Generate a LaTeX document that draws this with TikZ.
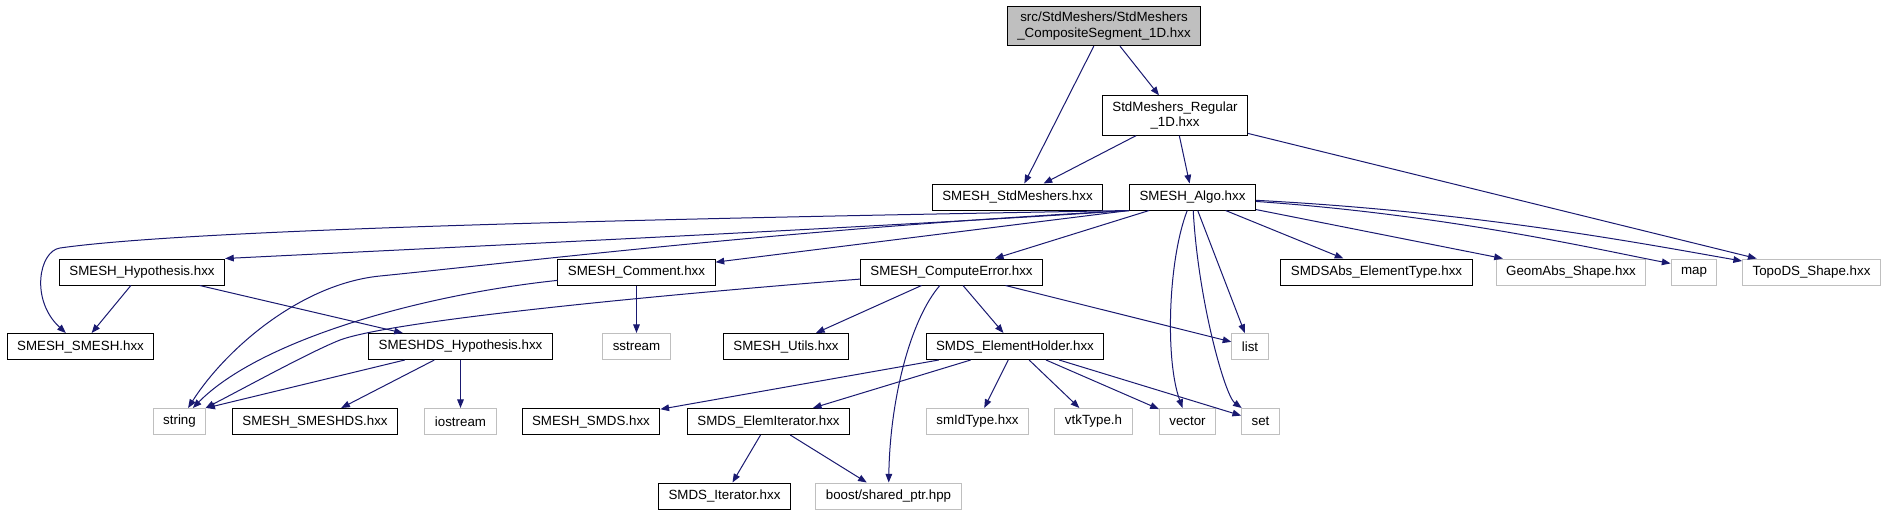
\documentclass[tikz,border=0pt]{standalone}
\usepackage{fontspec}
\setmainfont{Liberation Sans}
\usepackage{tikz}
\usetikzlibrary{arrows.meta}
\definecolor{edgeblue}{HTML}{191970}
\definecolor{extgrey}{HTML}{BFBFBF}

\begin{document}
\begin{tikzpicture}[
  x=0.75pt, y=-0.75pt,
  font=\fontsize{10}{11.5}\selectfont,
  box/.style={
    draw=black, line width=0.75pt, fill=white,
    align=center, inner xsep=7.5pt, inner ysep=2pt,
    minimum height=19.5pt
  },
  ext/.style={box, draw=extgrey},
  two/.style={box, minimum height=29.5pt},
  rootbox/.style={two, fill=extgrey},
  arr/.style={-{Triangle[length=6.5pt,width=5pt]}, draw=edgeblue, line width=0.75pt}
]
  \useasboundingbox (0,0) rectangle (1886,515);

  % header being documented
  \node[rootbox] (root) at (1104,26) {src/StdMeshers/StdMeshers\\\_CompositeSegment\_1D.hxx};
  \node[two] (reg) at (1175,115.5) {StdMeshers\_Regular\\\_1D.hxx};

  \node[box] (stdm) at (1017.5,197) {SMESH\_StdMeshers.hxx};
  \node[box] (algo) at (1192.5,197) {SMESH\_Algo.hxx};

  \node[box] (hyp) at (142,272) {SMESH\_Hypothesis.hxx};
  \node[box] (comment) at (636.5,272) {SMESH\_Comment.hxx};
  \node[box] (cerr) at (951.5,272) {SMESH\_ComputeError.hxx};
  \node[box] (elemtype) at (1376.5,272) {SMDSAbs\_ElementType.hxx};
  \node[ext] (geomabs) at (1571,272) {GeomAbs\_Shape.hxx};
  \node[ext] (map) at (1694,272) {map};
  \node[ext] (topods) at (1811.5,272) {TopoDS\_Shape.hxx};

  \node[box] (smesh) at (80.5,346.5) {SMESH\_SMESH.hxx};
  \node[box] (dshyp) at (460.5,346.5) {SMESHDS\_Hypothesis.hxx};
  \node[ext] (sstream) at (636.5,346.5) {sstream};
  \node[box] (utils) at (786,346.5) {SMESH\_Utils.hxx};
  \node[box] (holder) at (1015,346.5) {SMDS\_ElementHolder.hxx};
  \node[ext] (list) at (1250,346.5) {list};

  \node[ext] (string) at (179.5,421.5) {string};
  \node[box] (smeshds) at (315,421.5) {SMESH\_SMESHDS.hxx};
  \node[ext] (iostream) at (460.5,421.5) {iostream};
  \node[box] (smds) at (591,421.5) {SMESH\_SMDS.hxx};
  \node[box] (elemit) at (768.5,421.5) {SMDS\_ElemIterator.hxx};
  \node[ext] (smid) at (977.5,421.5) {smIdType.hxx};
  \node[ext] (vtk) at (1093.5,421.5) {vtkType.h};
  \node[ext] (vector) at (1187.5,421.5) {vector};
  \node[ext] (set) at (1260.5,421.5) {set};

  \node[box] (iter) at (724.5,496) {SMDS\_Iterator.hxx};
  \node[ext] (boost) at (888.5,496) {boost/shared\_ptr.hpp};

  % includes of the root header
  \draw[arr] (root) -- (stdm);
  \draw[arr] (root) -- (reg);

  % StdMeshers_Regular_1D
  \draw[arr] (reg) -- (stdm);
  \draw[arr] (reg) -- (algo);
  \draw[arr] (reg) -- (topods);

  % SMESH_Algo (the long ones go round the left)
  \draw[arr] (algo.south west) .. controls (700,218) and (200,228) .. (60,248)
    .. controls (39,251) and (30,300) .. (smesh);
  \draw[arr] (algo.south west) .. controls (900,226) and (500,245) .. (hyp.north east);
  \draw[arr] (algo.south west) .. controls (800,228) and (520,262) .. (380,276)
    .. controls (300,284) and (225,350) .. (string);
  \draw[arr] (algo.south west) -- (comment);
  \draw[arr] (algo) -- (cerr);
  \draw[arr] (algo) -- (elemtype);
  \draw[arr] (algo) -- (geomabs);
  \draw[arr] (algo) .. controls (1450,215) and (1600,250) .. (map.160);
  \draw[arr] (algo) .. controls (1480,212) and (1650,245) .. (topods.171);
  \draw[arr] (algo) -- (list);
  \draw[arr] (algo) .. controls (1168,260) and (1165,360) .. (vector);
  \draw[arr] (algo) .. controls (1198,300) and (1225,396) .. (set);

  % SMESH_Hypothesis
  \draw[arr] (hyp) -- (smesh);
  \draw[arr] (hyp) -- (dshyp);

  % SMESH_Comment
  \draw[arr] (comment) .. controls (420,295) and (260,340) .. (string);
  \draw[arr] (comment) -- (sstream);

  % SMESH_ComputeError
  \draw[arr] (cerr) .. controls (720,290) and (400,318) .. (340,340)
    .. controls (310,352) and (250,385) .. (string);
  \draw[arr] (cerr) -- (utils);
  \draw[arr] (cerr) -- (holder);
  \draw[arr] (cerr) .. controls (910,320) and (890,400) .. (boost);
  \draw[arr] (cerr) -- (list);

  % SMESHDS_Hypothesis
  \draw[arr] (dshyp) -- (string.north east);
  \draw[arr] (dshyp) -- (smeshds);
  \draw[arr] (dshyp) -- (iostream);

  % SMDS_ElementHolder
  \draw[arr] (holder) -- (smds);
  \draw[arr] (holder) -- (elemit);
  \draw[arr] (holder) -- (smid);
  \draw[arr] (holder) -- (vtk);
  \draw[arr] (holder) -- (vector);
  \draw[arr] (holder) -- (set);

  % SMDS_ElemIterator
  \draw[arr] (elemit) -- (iter);
  \draw[arr] (elemit) -- (boost);
\end{tikzpicture}
\end{document}
